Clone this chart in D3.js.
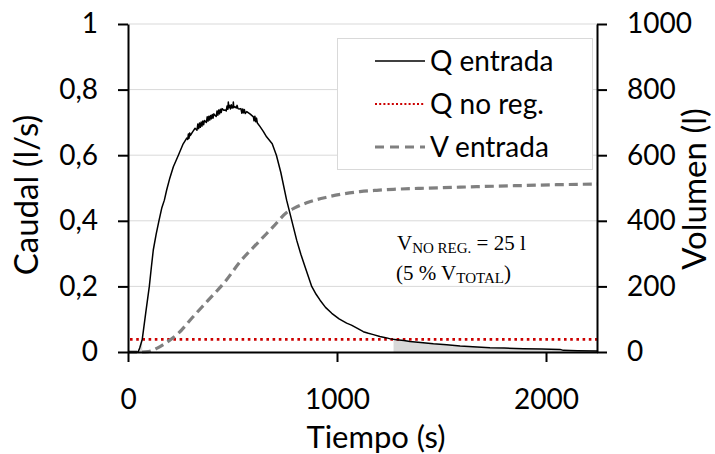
<!DOCTYPE html>
<html>
<head>
<meta charset="utf-8">
<script src="https://cdn.jsdelivr.net/npm/d3@7"></script>
<style>
  html, body { margin: 0; padding: 0; background: #fff; }
  svg { display: block; }
  text { font-family: Lato, "Open Sans", sans-serif; fill: #000; }
</style>
</head>
<body>
<svg id="chart" width="715" height="454"></svg>
<script>
// Inflow hydrograph: time (s) and flow (l/s)
const tQ = [0, 48, 56, 68, 85, 102, 112, 121, 135, 148, 162, 174, 185, 200, 217, 241, 262, 281,
  286, 289, 292, 295, 298, 310, 321, 330, 334, 338, 342, 346, 350, 354, 358, 362, 366,
  375, 379, 383, 387, 391, 395, 399, 403, 407, 411, 416, 422, 426, 430, 434, 438, 442, 446, 450,
  458, 464, 470, 474, 478, 480, 482, 486, 490, 494, 498, 502, 504, 506, 512, 518, 522, 526, 532,
  540, 545, 549, 553, 557, 561, 568, 585, 600, 603, 607, 611, 615, 619, 632, 648, 663, 690, 710,
  731, 759, 783, 807, 827, 847, 879, 900, 919, 945, 975, 1010, 1046, 1069, 1100, 1126, 1150,
  1174, 1205, 1238, 1255, 1286, 1320, 1349, 1400, 1461, 1525, 1589, 1650, 1732, 1800, 1891,
  1980, 2067, 2083, 2150, 2244];
const qEntrada = [0, 0, 0.012, 0.038, 0.12, 0.2, 0.26, 0.311, 0.36, 0.4, 0.44, 0.463, 0.494, 0.53, 0.565, 0.6, 0.632, 0.652,
  0.648, 0.665, 0.652, 0.668, 0.66, 0.672, 0.682, 0.676, 0.695, 0.681, 0.698, 0.685, 0.701, 0.689, 0.704, 0.693, 0.706,
  0.7, 0.717, 0.704, 0.719, 0.707, 0.721, 0.711, 0.724, 0.713, 0.726, 0.722, 0.718, 0.735, 0.722, 0.738, 0.726, 0.74, 0.73, 0.742,
  0.737, 0.738, 0.735, 0.75, 0.74, 0.762, 0.745, 0.752, 0.741, 0.754, 0.744, 0.745, 0.762, 0.745, 0.748, 0.744, 0.752, 0.742, 0.741,
  0.742, 0.728, 0.741, 0.729, 0.739, 0.727, 0.733, 0.725, 0.717, 0.705, 0.719, 0.702, 0.713, 0.698, 0.687, 0.672, 0.656, 0.635, 0.6,
  0.548, 0.463, 0.402, 0.341, 0.298, 0.26, 0.2, 0.176, 0.158, 0.136, 0.118, 0.101, 0.088, 0.082, 0.071, 0.062, 0.057,
  0.053, 0.047, 0.043, 0.04, 0.037, 0.035, 0.032, 0.029, 0.025, 0.022, 0.018, 0.016, 0.013, 0.012, 0.01,
  0.009, 0.008, 0.005, 0.004, 0.003];

// Cumulative inflow volume: time (s) and volume (l)
const tV = [0, 60, 97, 140, 177, 241, 305, 384, 464, 536, 624, 695, 759, 800, 855, 951, 1030, 1110,
  1190, 1270, 1400, 1508, 1668, 1850, 2050, 2244];
const vEntrada = [0, 0, 1, 12, 26, 57, 103, 158, 214, 275, 335, 382, 425, 440, 455, 472, 482, 489,
  493, 496, 499, 501, 504, 507, 510, 512];

// Non-regulated flow threshold (l/s)
const qNoReg = 0.0385;

// Axis ticks
const xTicks = [0, 1000, 2000];
const qTicks = [0, 0.2, 0.4, 0.6, 0.8, 1];
const vTicks = [0, 200, 400, 600, 800, 1000];

// Legend entries
const legendLabels = ["Q entrada", "Q no reg.", "V entrada"];

const svg = d3.select("#chart");
const plot = { left: 128, right: 597, top: 24, bottom: 352 };

const x = d3.scaleLinear().domain([0, 2244]).range([plot.left, plot.right]);
const yQ = d3.scaleLinear().domain([0, 1]).range([plot.bottom, plot.top]);
const yV = d3.scaleLinear().domain([0, 1000]).range([plot.bottom, plot.top]);

const fmtQ = d => d3.format("~g")(d).replace(".", ",");

// Horizontal gridlines
svg.append("g").selectAll("line").data(qTicks.filter(d => d > 0)).join("line")
  .attr("x1", plot.left).attr("x2", plot.right)
  .attr("y1", d => yQ(d)).attr("y2", d => yQ(d))
  .attr("stroke", "#d9d9d9").attr("stroke-width", 1);

// Shaded volume below the threshold (portions of the hydrograph under qNoReg)
const qPts = tQ.map((t, i) => [t, qEntrada[i]]);
const segments = [];
let cur = null;
for (let i = 0; i < qPts.length; i++) {
  const [t, q] = qPts[i];
  if (i > 0) {
    const [t0, q0] = qPts[i - 1];
    if ((q0 <= qNoReg) !== (q <= qNoReg)) {
      const tc = t0 + (qNoReg - q0) / (q - q0) * (t - t0);
      if (cur) { cur.push([tc, qNoReg]); segments.push(cur); cur = null; }
      else { cur = [[tc, qNoReg]]; }
    }
  }
  if (q <= qNoReg) { if (!cur) cur = []; cur.push([t, q]); }
}
if (cur) segments.push(cur);

const shade = d3.area().x(d => x(d[0])).y0(yQ(0)).y1(d => yQ(d[1]));
svg.append("g").selectAll("path").data(segments).join("path")
  .attr("d", shade).attr("fill", "#d9d9d9");

// Threshold line
svg.append("line")
  .attr("x1", plot.left + 2).attr("x2", plot.right)
  .attr("y1", yQ(qNoReg)).attr("y2", yQ(qNoReg))
  .attr("stroke", "#cc0000").attr("stroke-width", 2.6)
  .attr("stroke-dasharray", "2.6 3.6");

// Volume curve (right axis)
const vLine = d3.line().x((d, i) => x(tV[i])).y(d => yV(d)).curve(d3.curveMonotoneX);
svg.append("path").datum(vEntrada)
  .attr("d", vLine).attr("fill", "none")
  .attr("stroke", "#808080").attr("stroke-width", 3.2)
  .attr("stroke-dasharray", "9 5");

// Flow curve (left axis)
const qLine = d3.line().x((d, i) => x(tQ[i])).y(d => yQ(d));
svg.append("path").datum(qEntrada)
  .attr("d", qLine).attr("fill", "none")
  .attr("stroke", "#000").attr("stroke-width", 1.5).attr("stroke-linejoin", "round");

// Axes
const axisStyle = g => {
  g.select(".domain").attr("stroke", "#000").attr("stroke-width", 2);
  g.selectAll(".tick line").attr("stroke", "#000").attr("stroke-width", 2);
  g.selectAll(".tick text").attr("font-family", "Lato").attr("font-size", 28).attr("fill", "#000");
};

svg.append("g").attr("transform", `translate(0,${plot.bottom})`)
  .call(d3.axisBottom(x).tickValues(xTicks).tickSize(10).tickSizeOuter(0).tickPadding(27).tickFormat(d3.format("d")))
  .call(axisStyle);

svg.append("g").attr("transform", `translate(${plot.left},0)`)
  .call(d3.axisLeft(yQ).tickValues(qTicks).tickSize(10).tickSizeOuter(0).tickPadding(20).tickFormat(fmtQ))
  .call(axisStyle);

svg.append("g").attr("transform", `translate(${plot.right},0)`)
  .call(d3.axisRight(yV).tickValues(vTicks).tickSize(10).tickSizeOuter(0).tickPadding(20).tickFormat(d3.format("d")))
  .call(axisStyle);

// Axis titles
svg.append("text").attr("x", 376).attr("y", 448).attr("text-anchor", "middle")
  .attr("font-size", 31).text("Tiempo (s)");
svg.append("text").attr("transform", "translate(38,195) rotate(-90)").attr("text-anchor", "middle")
  .attr("font-size", 33).text("Caudal (l/s)");
svg.append("text").attr("transform", "translate(706,189) rotate(-90)").attr("text-anchor", "middle")
  .attr("font-size", 33).text("Volumen (l)");

// Legend
const lg = svg.append("g");
lg.append("rect").attr("x", 337.5).attr("y", 38.5).attr("width", 255).attr("height", 131)
  .attr("fill", "#fff").attr("stroke", "#d9d9d9").attr("stroke-width", 1);
const legendStyles = [
  { stroke: "#000", width: 1.5, dash: null },
  { stroke: "#cc0000", width: 2, dash: "2 2.2" },
  { stroke: "#808080", width: 3, dash: "9 6" }
];
const legendY = [61, 104, 147];
legendLabels.forEach((label, i) => {
  const s = legendStyles[i];
  lg.append("line").attr("x1", 375).attr("x2", 425).attr("y1", legendY[i]).attr("y2", legendY[i])
    .attr("stroke", s.stroke).attr("stroke-width", s.width).attr("stroke-dasharray", s.dash);
  lg.append("text").attr("x", 430).attr("y", legendY[i]).attr("dy", "0.36em")
    .attr("font-size", 28).text(label);
});

// Annotation of the non-regulated volume
const ann = svg.append("g");
const a1 = ann.append("text").attr("x", 397).attr("y", 250).attr("font-size", 21)
  .style("font-family", "'Liberation Serif', serif");
a1.append("tspan").text("V");
a1.append("tspan").attr("dy", 3).attr("font-size", 15).text("NO REG.");
a1.append("tspan").attr("dy", -3).text(" = 25 l");
const a2 = ann.append("text").attr("x", 396).attr("y", 280).attr("font-size", 21)
  .style("font-family", "'Liberation Serif', serif");
a2.append("tspan").text("(5 % V");
a2.append("tspan").attr("dy", 3).attr("font-size", 15).text("TOTAL");
a2.append("tspan").attr("dy", -3).text(")");
</script>
</body>
</html>
